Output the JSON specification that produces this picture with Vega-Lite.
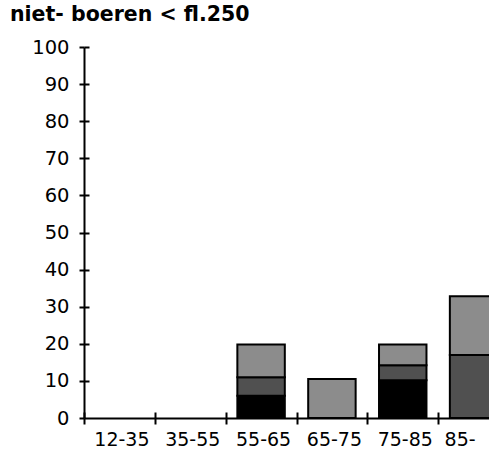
{
  "$schema": "https://vega.github.io/schema/vega-lite/v6.json",
  "autosize": "none",
  "width": 425,
  "height": 371,
  "padding": {"left": 84, "top": 47, "right": 0, "bottom": 39},
  "background": "white",
  "title": {
    "text": "niet- boeren < fl.250",
    "anchor": "start",
    "frame": "group",
    "dx": -74,
    "offset": 12,
    "font": "DejaVu Sans",
    "fontSize": 20.5,
    "fontWeight": "bold",
    "color": "black"
  },
  "data": {
    "values": [
      {"leeftijd": "55-65", "groep": "a", "volgorde": 1, "waarde": 6},
      {"leeftijd": "55-65", "groep": "b", "volgorde": 2, "waarde": 5},
      {"leeftijd": "55-65", "groep": "c", "volgorde": 3, "waarde": 8.8},
      {"leeftijd": "65-75", "groep": "c", "volgorde": 3, "waarde": 10.5},
      {"leeftijd": "75-85", "groep": "a", "volgorde": 1, "waarde": 10.2},
      {"leeftijd": "75-85", "groep": "b", "volgorde": 2, "waarde": 4},
      {"leeftijd": "75-85", "groep": "c", "volgorde": 3, "waarde": 5.6},
      {"leeftijd": "85-", "groep": "b", "volgorde": 2, "waarde": 17},
      {"leeftijd": "85-", "groep": "c", "volgorde": 3, "waarde": 15.8}
    ]
  },
  "layer": [
    {
      "mark": {"type": "bar", "width": {"band": 0.67}, "stroke": "black", "strokeWidth": 2},
      "encoding": {
        "x": {
          "field": "leeftijd",
          "type": "nominal",
          "scale": {"domain": ["12-35", "35-55", "55-65", "65-75", "75-85", "85-"], "paddingInner": 0, "paddingOuter": 0},
          "axis": {
            "title": null,
            "labelAngle": 0,
            "tickBand": "extent",
            "labelFont": "DejaVu Sans",
            "labelFontSize": 19,
            "labelColor": "black",
            "labelPadding": 6,
            "labelOffset": {"condition": {"test": "datum.value === '85-'", "value": -14}, "value": 2},
            "tickSize": 6,
            "tickWidth": 2,
            "tickColor": "black",
            "domainColor": "black",
            "domainWidth": 2,
            "grid": false
          }
        },
        "y": {
          "field": "waarde",
          "type": "quantitative",
          "aggregate": "sum",
          "stack": "zero",
          "scale": {"domain": [0, 100], "nice": false},
          "axis": {
            "title": null,
            "values": [0, 10, 20, 30, 40, 50, 60, 70, 80, 90, 100],
            "labelFont": "DejaVu Sans",
            "labelFontSize": 19.5,
            "labelColor": "black",
            "labelPadding": 10,
            "tickSize": 5,
            "tickWidth": 2,
            "tickColor": "black",
            "domainColor": "black",
            "domainWidth": 2,
            "grid": false
          }
        },
        "color": {
          "field": "groep",
          "type": "nominal",
          "scale": {"domain": ["a", "b", "c"], "range": ["#000000", "#505050", "#8c8c8c"]},
          "legend": null
        },
        "order": {"field": "volgorde", "type": "quantitative"}
      }
    },
    {
      "mark": {"type": "bar", "width": {"band": 0.67}, "opacity": 0},
      "encoding": {
        "x": {
          "field": "leeftijd",
          "type": "nominal",
          "scale": {"domain": ["12-35", "35-55", "55-65", "65-75", "75-85", "85-"], "paddingInner": 0, "paddingOuter": 0},
          "axis": {
            "orient": "bottom",
            "title": null,
            "labels": false,
            "domain": false,
            "tickBand": "extent",
            "tickSize": -6,
            "tickWidth": 2,
            "tickColor": "black",
            "grid": false
          }
        },
        "y": {
          "field": "waarde",
          "type": "quantitative",
          "aggregate": "sum",
          "stack": "zero",
          "scale": {"domain": [0, 100], "nice": false},
          "axis": {
            "orient": "left",
            "title": null,
            "labels": false,
            "domain": false,
            "values": [10, 20, 30, 40, 50, 60, 70, 80, 90, 100],
            "tickSize": -5,
            "tickWidth": 2,
            "tickColor": "black",
            "grid": false
          }
        },
        "order": {"field": "volgorde", "type": "quantitative"}
      }
    }
  ],
  "resolve": {"axis": {"x": "independent", "y": "independent"}},
  "config": {"view": {"stroke": null}}
}
